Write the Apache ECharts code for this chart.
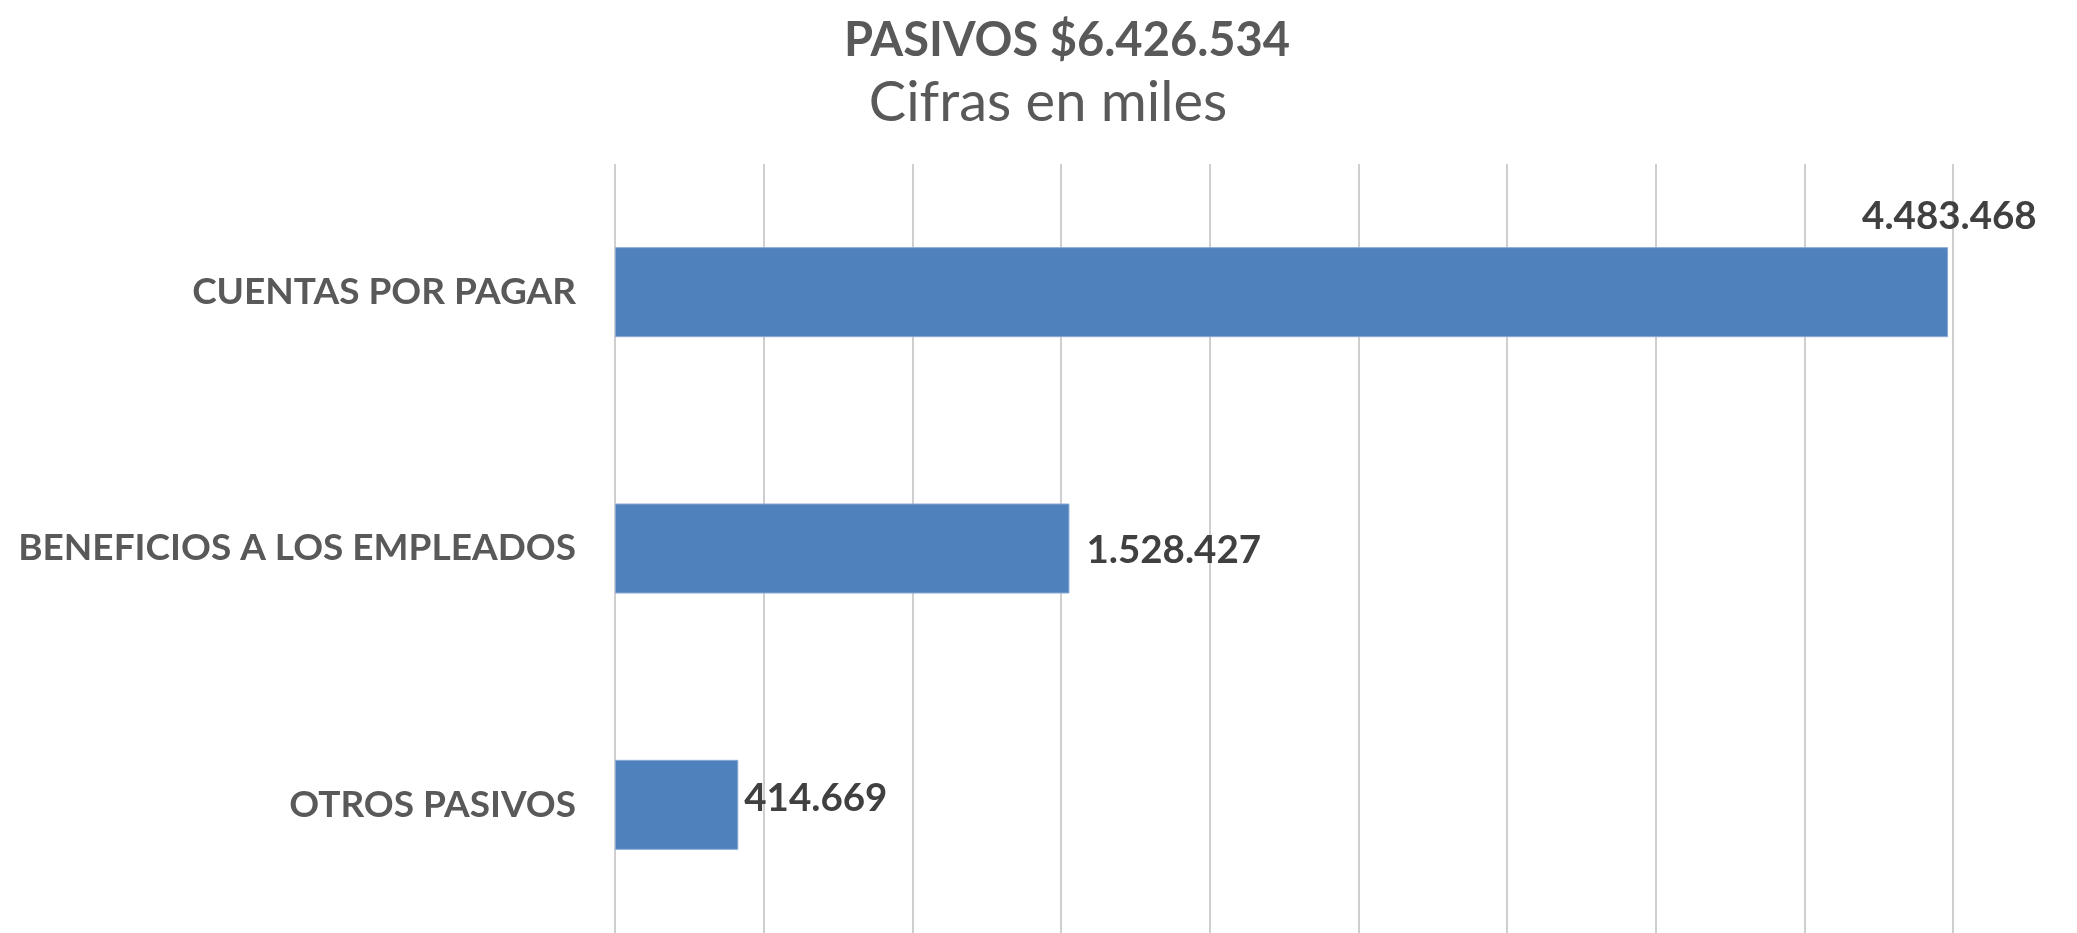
<!DOCTYPE html>
<html>
<head>
<meta charset="utf-8">
<script src="https://cdn.jsdelivr.net/npm/echarts@6/dist/echarts.min.js"></script>
<style>
html,body{margin:0;padding:0;background:#fff;}
#chart{width:2077px;height:933px;}
</style>
</head>
<body>
<div id="chart"></div>
<script>
var titleText = 'PASIVOS $6.426.534';
var subtitleText = 'Cifras en miles';
var categories = ['CUENTAS POR PAGAR', 'BENEFICIOS A LOS EMPLEADOS', 'OTROS PASIVOS'];
var values = [4483468, 1528427, 414669];
var axisMin = 0, axisMax = 4500000, axisInterval = 500000;

function fmt(v) {
  return String(Math.round(v)).replace(/\B(?=(\d{3})+(?!\d))/g, '.');
}

var labelCfg = [
  { position: 'right', distance: 0, offset: [-86, -76] },
  { position: 'right', distance: 17, offset: [0, 2] },
  { position: 'right', distance: 6, offset: [0, -6] }
];

var chart = echarts.init(document.getElementById('chart'));
chart.setOption({
  animation: false,
  backgroundColor: '#ffffff',
  title: [
    { text: titleText, left: 1062, top: 12, textAlign: 'center',
      textStyle: { fontFamily: 'Lato', fontWeight: 'bold', fontSize: 47, color: '#595959' } },
    { text: subtitleText, left: 1043, top: 70, textAlign: 'center',
      textStyle: { fontFamily: 'Lato', fontWeight: 'normal', fontSize: 56, color: '#595959' } }
  ],
  grid: { left: 615, right: 124, top: 164, bottom: -5, containLabel: false },
  xAxis: {
    type: 'value', min: axisMin, max: axisMax, interval: axisInterval,
    axisLabel: { show: false }, axisTick: { show: false }, axisLine: { show: false },
    splitLine: { show: true, lineStyle: { color: '#CFCFCF', width: 2 } }
  },
  yAxis: {
    type: 'category', data: categories, inverse: true,
    axisTick: { show: false }, axisLine: { show: false },
    axisLabel: { margin: 39, fontFamily: 'Lato', fontWeight: 'bold', fontSize: 37, color: '#595959' }
  },
  series: [{
    type: 'bar',
    barWidth: 90,
    data: values.map(function (v, i) {
      return { value: v, label: labelCfg[i] };
    }),
    itemStyle: { color: '#4F81BD', borderColor: '#8AA9D4', borderWidth: 1 },
    label: {
      show: true,
      formatter: function (p) { return fmt(p.value); },
      fontFamily: 'Lato', fontWeight: 'bold', fontSize: 38.5, color: '#404040'
    }
  }]
});
</script>
</body>
</html>
